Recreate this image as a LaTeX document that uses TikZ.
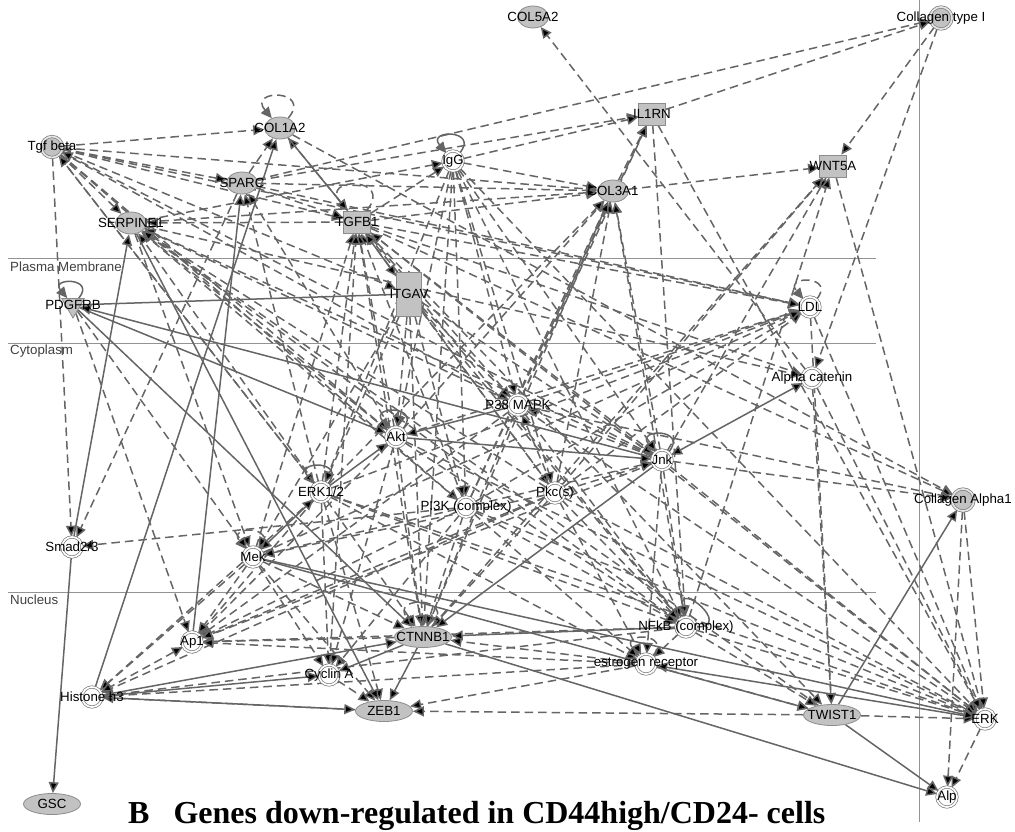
\documentclass[tikz,border=0pt]{standalone}
\usepackage{fontspec}
\setmainfont{Liberation Serif}
\setsansfont{Liberation Sans}
\usetikzlibrary{arrows.meta,shapes.geometric,backgrounds}

\definecolor{edgegray}{HTML}{656565}
\definecolor{molfill}{HTML}{C2C2C2}
\definecolor{molline}{HTML}{8C8C8C}
\definecolor{grpline}{HTML}{7A7A7A}

\begin{document}
\begin{tikzpicture}[x=1pt, y=-1pt,
  font=\sffamily\fontsize{13}{14}\selectfont,
  every loop/.style={},
  lab/.style={font=\sffamily\fontsize{13.3}{14}\selectfont, inner sep=0pt, text=black},
  gmol/.style={ellipse, minimum width=31pt, minimum height=22pt, inner sep=0pt, fill=molfill, draw=molline, line width=0.8pt},
  gwide/.style={gmol, minimum width=57pt, minimum height=21pt},
  gsq/.style={rectangle, minimum width=27pt, minimum height=22pt, inner sep=0pt, fill=molfill, draw=molline, line width=0.8pt},
  gbar/.style={gsq, minimum width=25pt, minimum height=44pt},
  kinase/.style={regular polygon, regular polygon sides=3, shape border rotate=180, minimum size=26pt, inner sep=0pt, fill=molfill, draw=molline, line width=0.8pt},
  wgrp/.style={circle, minimum size=20pt, inner sep=0pt, fill=white, draw=grpline, line width=0.7pt, double=white, double distance=1.7pt},
  ggrp/.style={wgrp, fill=molfill, double=molfill!45!white},
  dedge/.style={draw=edgegray, line width=1.5pt, dash pattern=on 8.5pt off 5pt, -{Triangle[length=11pt,width=10pt]}},
  sedge/.style={draw=edgegray, line width=1.5pt, -{Triangle[length=11pt,width=10pt]}},
  dboth/.style={dedge, {Triangle[length=11pt,width=10pt]}-{Triangle[length=11pt,width=10pt]}},
  sboth/.style={sedge, {Triangle[length=11pt,width=10pt]}-{Triangle[length=11pt,width=10pt]}},
  sline/.style={draw=edgegray, line width=1.5pt},
  dloop/.style={loop, dedge, out=50, in=130, min distance=26pt, looseness=6},
  sloop/.style={loop, sedge, out=50, in=130, min distance=26pt, looseness=6},
  region/.style={draw=gray!85, line width=0.9pt},
  regtext/.style={font=\sffamily\fontsize{13.3}{14}\selectfont, text=black!75, anchor=west, inner sep=0pt}
]
\useasboundingbox (0,0) rectangle (1015,831);

% extracellular space
\node[gmol, label={[lab]center:COL5A2}] (col5a2) at (533,17) {};
\node[ggrp, minimum size=22pt, label={[lab]center:Collagen type I}] (colI) at (941,18) {};
\node[ggrp, minimum size=21pt, label={[lab]center:Tgf beta}] (tgfb) at (52,147) {};
\node[gmol, label={[lab]center:COL1A2}] (col1a2) at (280,128) {};
\node[wgrp, label={[lab]center:IgG}] (igg) at (453,161) {};
\node[gsq, label={[lab]center:IL1RN}] (il1rn) at (652,114) {};
\node[gmol, label={[lab]center:SPARC}] (sparc) at (242,183) {};
\node[gmol, label={[lab]center:COL3A1}] (col3a1) at (613,191) {};
\node[gsq, label={[lab]center:WNT5A}] (wnt5a) at (833,166) {};
\node[gmol, label={[lab]center:SERPINE1}] (serpine) at (131,223) {};
\node[gsq, label={[lab]center:TGFB1}] (tgfb1) at (357,222) {};

% plasma membrane
\node[kinase, label={[lab]center:PDGFRB}] (pdgfrb) at (73,305) {};
\node[gbar, label={[lab]center:ITGAV}] (itgav) at (409,294) {};
\node[wgrp, label={[lab]center:LDL}] (ldl) at (810,307) {};

% cytoplasm
\node[wgrp, label={[lab]center:Alpha catenin}] (acat) at (812,378) {};
\node[wgrp, label={[lab]center:P38 MAPK}] (p38) at (518,405) {};
\node[wgrp, label={[lab]center:Akt}] (akt) at (396,437) {};
\node[wgrp, label={[lab]center:Jnk}] (jnk) at (662,460) {};
\node[wgrp, label={[lab]center:ERK1/2}] (erk12) at (321,492) {};
\node[wgrp, label={[lab]center:Pkc(s)}] (pkc) at (555,493) {};
\node[wgrp, label={[lab]center:PI3K (complex)}] (pi3k) at (466,507) {};
\node[ggrp, minimum size=22pt, label={[lab]center:Collagen Alpha1}] (colA1) at (963,500) {};
\node[wgrp, label={[lab]center:Smad2/3}] (smad) at (72,547) {};
\node[wgrp, label={[lab]center:Mek}] (mek) at (253,557) {};

% nucleus
\node[wgrp, label={[lab]center:Ap1}] (ap1) at (192,642) {};
\node[gwide, label={[lab]center:CTNNB1}] (ctnnb1) at (423,637) {};
\node[wgrp, label={[lab]center:NFkB (complex)}] (nfkb) at (686,627) {};
\node[wgrp, label={[lab]center:estrogen receptor}] (esr) at (646,664) {};
\node[wgrp, label={[lab]center:Cyclin A}] (cycA) at (329,675) {};
\node[wgrp, label={[lab]center:Histone h3}] (h3) at (92,697) {};
\node[gwide, label={[lab]center:ZEB1}] (zeb1) at (384,711) {};
\node[gwide, label={[lab]center:TWIST1}] (twist1) at (832,715) {};
\node[wgrp, label={[lab]center:ERK}] (erk) at (985,719) {};
\node[wgrp, label={[lab]center:Alp}] (alp) at (947,797) {};
\node[gwide, label={[lab]center:GSC}] (gsc) at (52,804) {};

\node[regtext] (pmtext) at (10,267) {Plasma Membrane};
\node[regtext] (cytext) at (10,351) {Cytoplasm};
\node[regtext] (nutext) at (10,600) {Nucleus};

\node[anchor=base west, font=\bfseries\fontsize{32}{35}\selectfont, inner sep=0pt] (title)
  at (128,823) {B\hspace{24pt}Genes down-regulated in CD44high/CD24- cells};

\begin{scope}[on background layer]
\draw[region] (8,258) -- (876,258);
\draw[region] (8,343) -- (876,343);
\draw[region] (8,592) -- (876,592);
\draw[region] (919,0) -- (919,822);

% self loops
\path (col1a2) edge[dloop] (col1a2) (tgfb1) edge[dloop] (tgfb1) (ldl) edge[dloop] (ldl)
      (mek) edge[dloop] (mek) (ctnnb1) edge[dloop] (ctnnb1) (esr) edge[dloop] (esr);
\path (igg) edge[sloop] (igg) (akt) edge[sloop] (akt) (jnk) edge[sloop] (jnk)
      (erk12) edge[sloop] (erk12) (pdgfrb) edge[sloop] (pdgfrb);
\path (nfkb) edge[sloop, out=0, in=100] (nfkb);

% dashed relations
\path[dedge] (tgfb) edge (col1a2) edge (serpine) edge (sparc) edge (tgfb1) edge (smad) edge (itgav)
  edge (ldl) edge (p38) edge (akt) edge (erk12) edge (pi3k) edge (col3a1);
\path[dedge] (sparc) edge (col1a2) edge (colI) edge (tgfb1) edge (il1rn) edge (ldl) edge (smad) edge (col3a1);
\path[dedge] (igg) edge (il1rn) edge (col3a1) edge (akt) edge (erk12) edge (pi3k) edge (pkc)
  edge (jnk) edge (nfkb) edge (ctnnb1) edge (p38) edge (erk);
\path[dedge] (col1a2) edge (colA1);
\path[dedge] (tgfb1) edge (col1a2) edge (igg) edge (col3a1) edge (ldl) edge (colA1) edge (erk)
  edge (twist1) edge (serpine) edge (acat);
\path[dedge] (itgav) edge (p38) edge (akt) edge (erk12) edge (pi3k) edge (jnk) edge (pkc)
  edge (mek) edge (nfkb) edge (ctnnb1);
\path[dedge] (serpine) edge (mek) edge (col3a1) edge (igg) edge (acat);
\path[dedge] (col3a1) edge (il1rn) edge (wnt5a);
\path[dedge] (il1rn) edge (nfkb) edge (erk) edge (colI);
\path[dedge] (colI) edge (wnt5a) edge (acat);
\path[dedge] (wnt5a) edge (erk);
\path[dedge] (ldl) edge (twist1) edge (erk);
\path[dedge] (acat) edge (col5a2) edge (erk) edge (twist1);
\path[dedge] (p38) edge (ldl) edge (serpine) edge (tgfb1) edge (col3a1) edge (il1rn) edge (ap1)
  edge (ctnnb1) edge (nfkb) edge (erk) edge (colA1);
\path[dedge] (akt) edge (serpine) edge (tgfb1) edge (col3a1) edge (ldl) edge (ctnnb1) edge (nfkb)
  edge (ap1) edge (erk) edge (sparc) edge (cycA);
\path[dedge] (jnk) edge (tgfb) edge (serpine) edge (tgfb1) edge (col3a1) edge (ap1) edge (nfkb)
  edge (erk) edge (colA1) edge (wnt5a) edge (esr) edge (p38);
\path[dedge] (erk12) edge (tgfb) edge (serpine) edge (tgfb1) edge (col3a1) edge (ldl) edge (ap1)
  edge (cycA) edge (zeb1) edge (h3) edge (ctnnb1) edge (nfkb) edge (esr) edge (erk) edge (sparc);
\path[dedge] (pi3k) edge (serpine) edge (tgfb1) edge (col3a1) edge (ldl) edge (smad) edge (ap1)
  edge (ctnnb1) edge (nfkb) edge (esr) edge (erk) edge (il1rn) edge (jnk) edge (mek) edge (cycA);
\path[dedge] (pkc) edge (serpine) edge (tgfb1) edge (col3a1) edge (wnt5a) edge (ap1) edge (ctnnb1)
  edge (nfkb) edge (erk) edge (mek) edge (p38) edge (jnk) edge (h3) edge (esr) edge (ldl);
\path[dedge] (pdgfrb) edge (ap1) edge (mek);
\path[dedge] (mek) edge (ap1) edge (cycA) edge (zeb1) edge (h3) edge (ctnnb1) edge (tgfb1) edge (ldl);
\path[dboth] (ap1) edge (h3);
\path[dedge] (ctnnb1) edge (ap1) edge (wnt5a) edge (tgfb1) edge (col3a1);
\path[dedge] (nfkb) edge (esr) edge (serpine) edge (tgfb1) edge (col3a1) edge (wnt5a) edge (erk)
  edge (twist1) edge (ap1) edge (h3);
\path[dedge] (esr) edge (zeb1) edge (h3) edge (ap1) edge (ctnnb1) edge (twist1);
\path[dedge] (erk) edge (alp);
\path[dedge] (cycA) edge (zeb1) edge (tgfb1);
\path[dedge] (twist1) edge (erk) edge (zeb1) edge (serpine);
\path[dedge] (colA1) edge (erk) edge (alp);
\path[dedge] (zeb1) edge (h3);

% solid relations
\path[sedge] (col1a2) edge (tgfb1);
\path[sboth] (itgav) edge (tgfb1) (jnk) edge (acat) (erk12) edge (mek);
\path[sline] (pdgfrb) edge (itgav);
\path[sedge] (pdgfrb) edge (akt) edge (ctnnb1);
\path[sedge] (jnk) edge (pdgfrb) edge (ctnnb1);
\path[sedge] (p38) edge (akt);
\path[sedge] (erk12) edge (akt);
\path[sedge] (akt) edge (jnk);
\path[sedge] (ap1) edge (sparc);
\path[sedge] (h3) edge (col1a2) edge (zeb1) edge (ctnnb1) edge (cycA);
\path[sedge] (ctnnb1) edge (zeb1) edge (cycA) edge (alp);
\path[sedge] (nfkb) edge (ctnnb1);
\path[sedge] (erk) edge (esr);
\path[sedge] (mek) edge (twist1) edge (erk);
\path[sedge] (twist1) edge (colA1) edge (alp);
\path[sedge] (smad) edge (serpine) edge (gsc);
\path[sedge] (serpine) edge (zeb1);
\end{scope}
\end{tikzpicture}
\end{document}
